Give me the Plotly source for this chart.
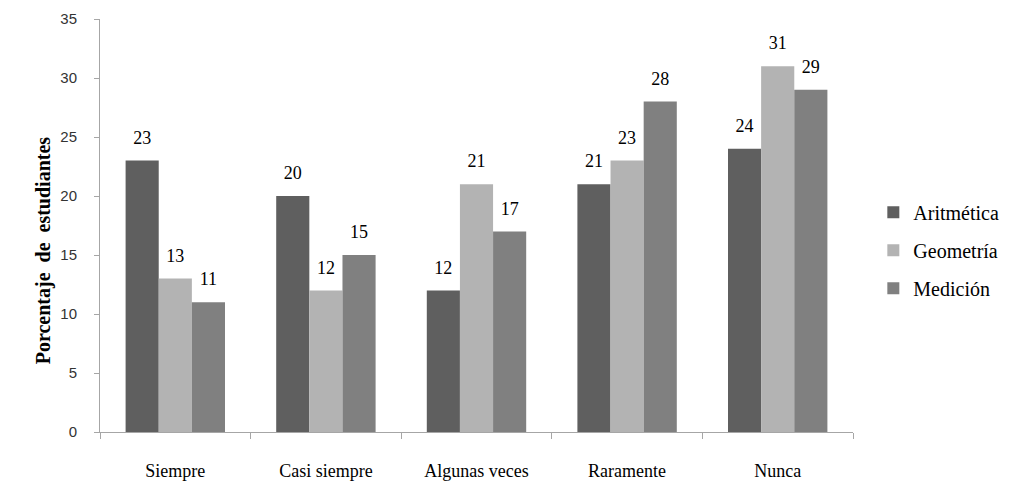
import plotly.graph_objects as go

categories = ["Siempre", "Casi siempre", "Algunas veces", "Raramente", "Nunca"]
aritmetica = [23, 20, 12, 21, 24]
geometria = [13, 12, 21, 23, 31]
medicion = [11, 15, 17, 28, 29]
series_names = ["Aritmética", "Geometría", "Medición"]
colors = ["#5f5f5f", "#b3b3b3", "#808080"]
y_title = "Porcentaje  de  estudiantes"

SERIF = "Liberation Serif"
SANS = "Liberation Sans"

fig = go.Figure()
for i, (name, vals, col) in enumerate(zip(series_names, [aritmetica, geometria, medicion], colors)):
    fig.add_trace(go.Bar(
        x=categories, y=vals, name=name, marker_color=col,
        marker_line_width=0, legendgroup=name, offsetgroup=str(i),
    ))
for i, (name, vals) in enumerate(zip(series_names, [aritmetica, geometria, medicion])):
    fig.add_trace(go.Scatter(
        x=categories, y=vals, mode="markers+text", offsetgroup=str(i),
        marker=dict(size=18, color="rgba(0,0,0,0)"),
        text=[str(v) for v in vals], textposition="top center",
        textfont=dict(family=SERIF, size=18, color="#000000"),
        showlegend=False, hoverinfo="skip", cliponaxis=False,
    ))

fig.update_layout(
    width=1019, height=483,
    margin=dict(l=92, r=174, t=11, b=59, autoexpand=False),
    paper_bgcolor="white", plot_bgcolor="white",
    barmode="group", bargap=0.34, bargroupgap=0,
    scattermode="group", scattergap=0.34,
    font=dict(family=SERIF, size=16, color="#000000"),
    legend=dict(x=1.027, y=0.44, xanchor="left", yanchor="middle",
                font=dict(family=SERIF, size=20, color="#000000"),
                tracegroupgap=9, itemwidth=30),
    showlegend=True,
    annotations=[dict(
        text="<b>" + y_title + "</b>", textangle=-90, showarrow=False,
        xref="paper", yref="paper", x=-0.0757, y=0.44,
        xanchor="center", yanchor="middle",
        font=dict(family=SERIF, size=20, color="#000000"),
    )],
)
fig.update_yaxes(
    range=[0, 35], dtick=5, showgrid=False, zeroline=False, automargin=False,
    showline=True, linecolor="#a6a6a6", linewidth=1,
    ticks="outside", ticklen=5, tickcolor="#a6a6a6", ticklabelstandoff=14,
    tickfont=dict(family=SANS, size=15, color="#333333"),
)
fig.update_xaxes(
    showgrid=False, showline=True, linecolor="#a6a6a6", linewidth=1, automargin=False,
    ticks="outside", ticklen=6, tickcolor="#a6a6a6", tickson="boundaries",
    ticklabelstandoff=22,
    tickfont=dict(family=SERIF, size=18, color="#000000"),
)

fig.write_html("out.html")
